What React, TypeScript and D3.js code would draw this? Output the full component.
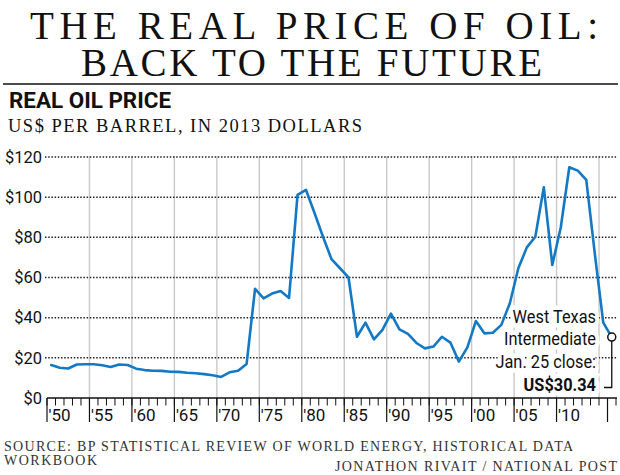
import * as d3 from "d3";

// Real oil price, US$ per barrel in 2013 dollars (last point = Jan. 25 2016 WTI close)
const years = [
  1950, 1951, 1952, 1953, 1954, 1955, 1956, 1957, 1958, 1959,
  1960, 1961, 1962, 1963, 1964, 1965, 1966, 1967, 1968, 1969,
  1970, 1971, 1972, 1973, 1974, 1975, 1976, 1977, 1978, 1979,
  1980, 1981, 1982, 1983, 1984, 1985, 1986, 1987, 1988, 1989,
  1990, 1991, 1992, 1993, 1994, 1995, 1996, 1997, 1998, 1999,
  2000, 2001, 2002, 2003, 2004, 2005, 2006, 2007, 2008, 2009,
  2010, 2011, 2012, 2013, 2014, 2015, 2016,
];
const prices = [
  16.4, 15.1, 14.7, 16.7, 16.8, 16.8, 16.3, 15.4, 16.7, 16.4,
  14.6, 13.9, 13.6, 13.5, 13.1, 13.0, 12.6, 12.3, 11.9, 11.3,
  10.5, 12.8, 13.6, 16.9, 54.4, 49.6, 52.0, 53.3, 49.8, 101.1,
  103.6, 92.1, 80.3, 69.1, 64.6, 60.1, 30.5, 37.5, 29.2, 33.9,
  42.0, 34.2, 31.9, 27.4, 24.7, 25.6, 30.5, 27.6, 18.1, 25.2,
  38.3, 32.2, 32.5, 36.4, 47.2, 64.6, 75.0, 80.3, 104.9, 66.2,
  85.0, 114.9, 113.2, 108.6, 72.0, 37.5, 30.34,
];

const yTicks = [0, 20, 40, 60, 80, 100, 120];
const labelYears = [1950, 1955, 1960, 1965, 1970, 1975, 1980, 1985, 1990, 1995, 2000, 2005, 2010];
const gridYears = [1955, 1960, 1965, 1970, 1975, 1980, 1985, 1990, 1995, 2000, 2005, 2010, 2015];
const tallTickYears = [...labelYears, 2016];
const minorTickYears = d3.range(1950, 2018);

const titleLines = ["THE REAL PRICE OF OIL:", "BACK TO THE FUTURE"];
const chartTitle = "REAL OIL PRICE";
const chartSubtitle = "US$ PER BARREL, IN 2013 DOLLARS";
const noteLines = ["West Texas", "Intermediate", "Jan. 25 close:"];
const noteValue = "US$30.34";
const sourceLines = ["SOURCE:  BP STATISTICAL REVIEW OF WORLD ENERGY, HISTORICAL DATA", "WORKBOOK"];
const credit = "JONATHON RIVAIT / NATIONAL POST";

const W = 620;
const H = 475;
const BLUE = "#1379c4";
const SANS = "Roboto, 'Noto Sans', sans-serif";
const SERIF = "'Liberation Serif', 'DejaVu Serif', serif";

export default function App() {
  const x = d3.scaleLinear().domain([1950, 2017]).range([47, 616]);
  const y = d3.scaleLinear().domain([0, 120]).range([398, 157]);

  const pts = years.map((yr, i) => [x(yr + 0.5), y(prices[i])] as [number, number]);
  const line = d3.line<[number, number]>()(pts) ?? "";
  const last = pts[pts.length - 1];

  const noteX = 596;
  const noteBase = [322.7, 345, 368.3];
  const valueBase = 390.7;
  const noteScale = 0.86;

  const noteText = (halo: boolean) => (
    <g fontFamily={SANS} fontSize={19} fill="#111" textAnchor="end">
      {noteLines.map((t, i) => (
        <g key={t} transform={`translate(${noteX},${noteBase[i]}) scale(${noteScale},1)`}>
          <text
            stroke={halo ? "#fff" : "none"}
            strokeWidth={halo ? 9 : 0}
            fill={halo ? "#fff" : "#111"}
          >{t}</text>
        </g>
      ))}
      <g transform={`translate(${noteX},${valueBase}) scale(${noteScale},1)`}>
        <text
          fontWeight="bold"
          stroke={halo ? "#fff" : "none"}
          strokeWidth={halo ? 9 : 0}
          fill={halo ? "#fff" : "#111"}
        >{noteValue}</text>
      </g>
    </g>
  );

  return (
    <svg
      width={W}
      height={H}
      viewBox={`0 0 ${W} ${H}`}
      style={{ position: "absolute", left: 0, top: 0, background: "#fff" }}
    >
      {/* Headline */}
      <g fontFamily={SERIF} fontSize={39} fill="#111">
        <text x={30} y={39} textLength={568} lengthAdjust="spacing">{titleLines[0]}</text>
        <text x={81} y={75.5} textLength={461} lengthAdjust="spacing">{titleLines[1]}</text>
      </g>
      <line x1={3} x2={618} y1={84} y2={84} stroke="#111" strokeWidth={1.5} />

      <text x={9} y={107.7} fontFamily={SANS} fontWeight="bold" fontSize={22.5} fill="#111"
        textLength={162} lengthAdjust="spacingAndGlyphs">{chartTitle}</text>
      <text x={8} y={131.5} fontFamily={SERIF} fontSize={18.5} fill="#111"
        textLength={354} lengthAdjust="spacing">{chartSubtitle}</text>

      {/* Vertical grid */}
      {gridYears.map((yr) => (
        <line key={yr} x1={x(yr)} x2={x(yr)} y1={y(120) - 1} y2={y(0)} stroke="#c9c9c9" strokeWidth={1.4} />
      ))}

      {/* Horizontal dotted grid */}
      {yTicks.filter((t) => t > 0).map((t) => (
        <line key={t} x1={45} x2={617} y1={y(t)} y2={y(t)} stroke="#222" strokeWidth={1.5} strokeDasharray="1.5,1.7" />
      ))}

      {/* Y labels */}
      <g fontFamily={SANS} fontSize={16.5} fill="#111" textAnchor="end">
        {yTicks.map((t) => (
          <text key={t} x={42} y={y(t) + 5.8}>{`$${t}`}</text>
        ))}
      </g>

      {/* Annotation halo under the line */}
      {noteText(true)}

      {/* Data line */}
      <path d={line} fill="none" stroke={BLUE} strokeWidth={2.6} strokeLinejoin="round" strokeLinecap="round" />

      {/* Annotation */}
      {noteText(false)}
      <path
        d={`M${last[0]},${last[1] + 4} V387.5 H604`}
        fill="none" stroke="#111" strokeWidth={1.3}
      />
      <circle cx={last[0]} cy={last[1]} r={4} fill="#fff" stroke="#111" strokeWidth={1.5} />

      {/* X axis */}
      <line x1={x(1950)} x2={x(2017) + 1} y1={y(0)} y2={y(0)} stroke="#111" strokeWidth={1.6} />
      {minorTickYears.map((yr) => (
        <line key={yr} x1={x(yr)} x2={x(yr)} y1={y(0)} y2={y(0) + 7.5} stroke="#111" strokeWidth={1} />
      ))}
      {tallTickYears.map((yr) => (
        <line key={yr} x1={x(yr)} x2={x(yr)} y1={y(0)} y2={y(0) + 24} stroke="#111" strokeWidth={1.2} />
      ))}
      <g fontFamily={SANS} fontSize={17} fill="#111">
        {labelYears.map((yr) => (
          <text key={yr} x={x(yr) + 1.5} y={420.5}>{`'${String(yr).slice(2)}`}</text>
        ))}
      </g>

      {/* Footer */}
      <g fontFamily={SERIF} fontSize={14} fill="#333">
        <text x={4} y={451} textLength={569} lengthAdjust="spacing">{sourceLines[0]}</text>
        <text x={4} y={465} textLength={93} lengthAdjust="spacing">{sourceLines[1]}</text>
        <text x={335} y={471} textLength={282} lengthAdjust="spacing">{credit}</text>
      </g>
    </svg>
  );
}
